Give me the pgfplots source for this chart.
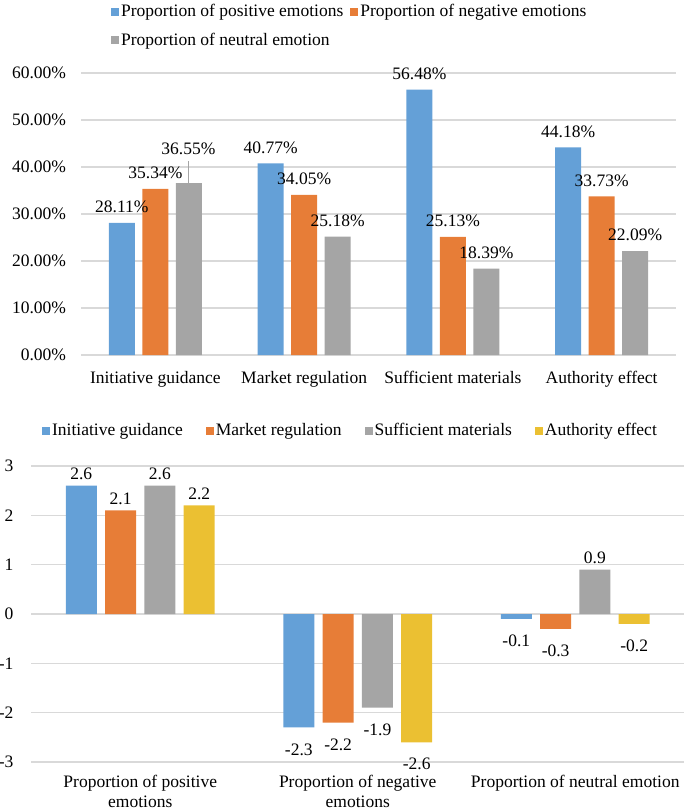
\documentclass[border=0pt]{standalone}
\usepackage{fontspec}
\setmainfont{Liberation Serif}
\usepackage{pgfplots}
\pgfplotsset{compat=1.18}
\definecolor{cblue}{RGB}{100,160,215}
\definecolor{corange}{RGB}{231,125,55}
\definecolor{cgray}{RGB}{165,165,165}
\definecolor{cgold}{RGB}{235,192,50}
\definecolor{gridc}{RGB}{217,217,217}
\pgfplotsset{
  common/.style={
    scale only axis,
    /pgf/number format/assume math mode=true,
    axis line style={draw=none},
    tick style={draw=none},
    ymajorgrids, grid style={draw=gridc, line width=1.2pt},
    legend cell align=left,
    legend image code/.code={\path[#1,draw=none] (0pt,-4pt) rectangle (8pt,4pt);},
    every node near coord/.append style={text=black},
  }
}
\begin{document}
\fontsize{17.5}{21}\selectfont
\begin{tikzpicture}
\useasboundingbox (0,0) rectangle (685pt,-811pt);
% ---------- top chart ----------
\begin{axis}[
  at={(81pt,-355pt)}, anchor=south west,
  width=595pt, height=282pt,
  xmin=-0.5, xmax=3.5, ymin=0, ymax=60,
  ybar=7.5pt, bar width=26pt,
  common,
  nodes near coords, point meta=explicit symbolic,
  xtick={0,1,2,3},
  xticklabels={Initiative guidance, Market regulation, Sufficient materials, Authority effect},
  ytick={0,10,...,60},
  yticklabel={\pgfmathprintnumber[fixed,fixed zerofill,precision=2]{\tick}\%},
  yticklabel style={xshift=-9pt},
  xticklabel style={yshift=-6pt},
  every node near coord/.append style={yshift=4pt},
  legend columns=2,
  legend style={draw=none, fill=none, inner sep=0pt, at={(axis description cs:0.0504,1.1667)}, anchor=west,
    nodes={inner sep=2pt}, row sep=10pt,
    /tikz/every even column/.append style={column sep=5pt}},
]
\addplot[fill=cblue, draw=none] coordinates {(0,28.11) [28.11\%] (1,40.77) [40.77\%] (2,56.48) [56.48\%] (3,44.18) [44.18\%]};
\addplot[fill=corange, draw=none] coordinates {(0,35.34) [35.34\%] (1,34.05) [34.05\%] (2,25.13) [25.13\%] (3,33.73) [33.73\%]};
\addplot[fill=cgray, draw=none] coordinates {(0,36.55) [] (1,25.18) [25.18\%] (2,18.39) [18.39\%] (3,22.09) [22.09\%]};
\legend{Proportion of positive emotions, Proportion of negative emotions, Proportion of neutral emotion}
\draw[cgray, line width=1pt] ([xshift=33.5pt]axis cs:0,36.55) -- ([xshift=33.5pt]axis cs:0,41.3);
\node[text=black] at ([xshift=33pt]axis cs:0,43.8) {36.55\%};
\end{axis}
% ---------- bottom chart ----------
\begin{axis}[
  at={(31.5pt,-762pt)}, anchor=south west,
  width=652.5pt, height=296pt,
  xmin=-0.5, xmax=2.5, ymin=-3, ymax=3,
  ybar=8.3pt, bar width=31pt,
  common,
  point meta=y,
  nodes near coords={\pgfmathprintnumber[fixed,fixed zerofill,precision=1]{\pgfplotspointmeta}},
  visualization depends on={y \as \rawy},
  every node near coord/.append style={yshift={(\rawy<0)*(-10pt)}},
  xtick={0,1,2},
  xticklabels={{Proportion of positive\\emotions},{Proportion of negative\\emotions},{Proportion of neutral emotion}},
  xticklabel style={align=center, yshift=-3pt, font=\fontsize{17.5}{19.5}\selectfont},
  ytick={-3,...,3},
  yticklabel style={xshift=-12pt},
  legend columns=4,
  legend style={draw=none, fill=none, inner sep=0pt, at={(axis description cs:0.016,1.118)}, anchor=west,
    nodes={inner sep=2pt},
    /tikz/every even column/.append style={column sep=21pt}},
]
\addplot[fill=cblue, draw=none] coordinates {(0,2.6) (1,-2.3) (2,-0.1)};
\addplot[fill=corange, draw=none] coordinates {(0,2.1) (1,-2.2) (2,-0.3)};
\addplot[fill=cgray, draw=none] coordinates {(0,2.6) (1,-1.9) (2,0.9)};
\addplot[fill=cgold, draw=none] coordinates {(0,2.2) (1,-2.6) (2,-0.2)};
\legend{Initiative guidance, Market regulation, Sufficient materials, Authority effect}
\end{axis}
\end{tikzpicture}
\end{document}
